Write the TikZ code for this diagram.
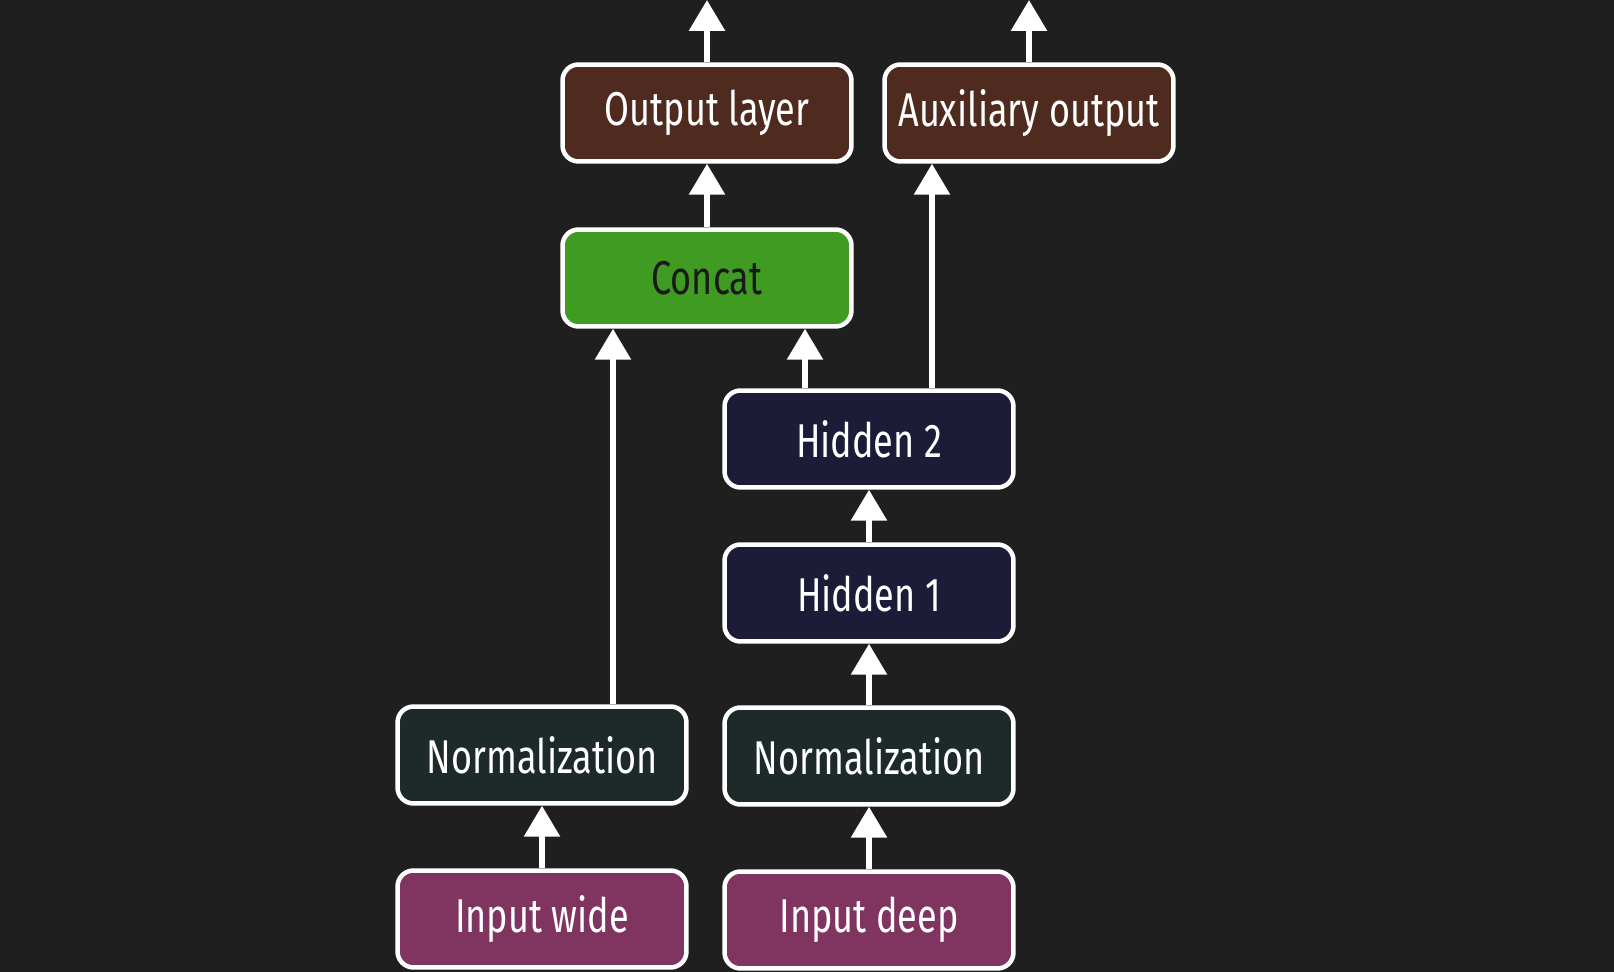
\documentclass[tikz,border=0pt]{standalone}
\usepackage{fontspec}
\setmainfont{Fira Sans}[FakeStretch=0.76]
\usetikzlibrary{arrows.meta}
\definecolor{bg}{HTML}{1F1F1F}
\definecolor{outbrown}{HTML}{4F2A1E}
\definecolor{concatgreen}{HTML}{409B23}
\definecolor{hiddennavy}{HTML}{1C1C38}
\definecolor{normteal}{HTML}{1E2A2A}
\definecolor{inputplum}{HTML}{7F3560}
\definecolor{darktext}{HTML}{1A1A1A}
\tikzset{
  layer/.style={draw=white, line width=0.09cm, rounded corners=0.32cm,
    minimum width=5.78cm, minimum height=1.94cm, inner sep=0pt,
    text=white, font=\fontsize{27}{32}\selectfont},
  outbox/.style={layer, fill=outbrown},
  catbox/.style={layer, fill=concatgreen, text=darktext},
  hidbox/.style={layer, fill=hiddennavy},
  normbox/.style={layer, fill=normteal},
  inbox/.style={layer, fill=inputplum},
  flow/.style={draw=white, line width=0.12cm,
    -{Triangle[width=0.7cm, length=0.62cm]}, white}
}
\begin{document}
\begin{tikzpicture}[x=0.02cm, y=-0.02cm]
  \fill[bg] (0,0) rectangle (1614,972);
  \useasboundingbox (0,0) rectangle (1614,972);

  % layers
  \node[outbox] (out) at (707,113) {Output layer};
  \node[outbox] (aux) at (1029,113) {Auxiliary output};
  \node[catbox] (cat) at (707,278) {Concat};
  \node[hidbox] (h2) at (869,439) {Hidden 2};
  \node[hidbox] (h1) at (869,593) {Hidden 1};
  \node[normbox] (nw) at (542,755) {Normalization};
  \node[normbox] (nd) at (869,756) {Normalization};
  \node[inbox] (iw) at (542,919) {Input wide};
  \node[inbox] (id) at (869,920) {Input deep};

  % reference x positions for off-centre connectors and free arrow ends
  \coordinate (wideX) at (613,0);
  \coordinate (deepX) at (805,0);
  \coordinate (auxX) at (932,0);
  \coordinate (outTop) at (707,0);
  \coordinate (auxTop) at (1029,0);

  % connectors
  \draw[flow] (iw.north) -- (nw.south);
  \draw[flow] (id.north) -- (nd.south);
  \draw[flow] (nd.north) -- (h1.south);
  \draw[flow] (h1.north) -- (h2.south);
  \draw[flow] (wideX |- nw.north) -- (wideX |- cat.south);
  \draw[flow] (deepX |- h2.north) -- (deepX |- cat.south);
  \draw[flow] (auxX |- h2.north) -- (auxX |- aux.south);
  \draw[flow] (cat.north) -- (out.south);
  \draw[flow] (out.north) -- (outTop);
  \draw[flow] (aux.north) -- (auxTop);
\end{tikzpicture}
\end{document}
